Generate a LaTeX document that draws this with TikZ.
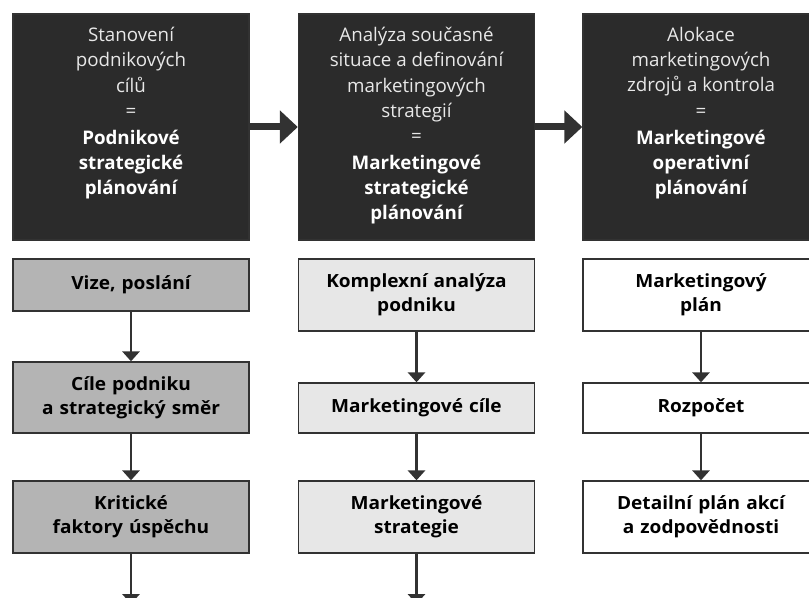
\documentclass[tikz,border=0pt]{standalone}
\usepackage{fontspec}
\setmainfont{Open Sans}
\newfontfamily\boxfont[FakeStretch=1.05]{Open Sans}
\usetikzlibrary{arrows.meta}

\definecolor{darkfill}{RGB}{43,43,43}
\definecolor{midfill}{RGB}{180,180,180}
\definecolor{lightfill}{RGB}{231,231,231}
\definecolor{edgegray}{RGB}{50,50,50}
\definecolor{toptext}{RGB}{232,232,232}

% text of the dark boxes, hung from the top
\newcommand{\toplines}[1]{\parbox[c][6.78cm][t]{6.9cm}{\centering\vspace*{0.4cm}#1}}

\begin{document}
\begin{tikzpicture}[x=0.03cm,y=-0.03cm,
		topbox/.style={draw=edgegray,line width=1.2pt,fill=darkfill,text=toptext,inner sep=0pt,
			minimum width=7.08cm,minimum height=6.78cm,font=\fontsize{16pt}{21.5pt}\selectfont},
		lowbox/.style={draw=edgegray,line width=1.2pt,minimum width=7.08cm,text width=6.8cm,
			align=center,inner sep=0pt,font=\boxfont\bfseries\fontsize{15.5pt}{20.5pt}\selectfont},
		flow/.style={draw=edgegray,line width=2pt,-{Triangle[length=0.3cm,width=0.52cm]}},
		bigflow/.style={draw=edgegray,line width=0.21cm,-{Triangle[length=0.54cm,width=0.97cm]}}]
		\useasboundingbox (0,0) rectangle (809,598);
		\clip (0,0) rectangle (809,598);

		% the three phases
		\node[topbox](plan1) at (131,127) {\toplines{Stanovení\\podnikových\\cílů\\=\\[1.5pt]
			\textcolor{white}{\bfseries Podnikové\\strategické\\plánování}}};
		\node[topbox](plan2) at (416.5,127) {\toplines{Analýza současné\\situace a definování\\marketingových\\strategií\\=\\[1.5pt]
			\textcolor{white}{\bfseries Marketingové\\strategické\\plánování}}};
		\node[topbox](plan3) at (701,127) {\toplines{Alokace\\marketingových\\zdrojů a kontrola\\=\\[1.5pt]
			\textcolor{white}{\bfseries Marketingové\\operativní\\plánování}}};

		\draw[bigflow] (plan1) -- (plan2);
		\draw[bigflow] (plan2) -- (plan3);

		% first column
		\node[lowbox,fill=midfill,minimum height=1.56cm](vize) at (131,285) {Vize, poslání};
		\node[lowbox,fill=midfill,minimum height=2.13cm](cile) at (131,397.5) {Cíle podniku\\a strategický směr};
		\node[lowbox,fill=midfill,minimum height=2.16cm](faktory) at (131,517) {Kritické\\faktory úspěchu};
		\coordinate (konec1) at (131,604);

		% second column
		\node[lowbox,fill=lightfill,minimum height=2.16cm](analyza) at (416.5,295) {Komplexní analýza\\podniku};
		\node[lowbox,fill=lightfill,minimum height=1.5cm](mcile) at (416.5,408) {Marketingové cíle};
		\node[lowbox,fill=lightfill,minimum height=2.16cm](mstrategie) at (416.5,517) {Marketingové\\strategie};
		\coordinate (konec2) at (416.5,604);

		% third column
		\node[lowbox,fill=white,minimum height=2.16cm](mplan) at (701,295) {Marketingový\\plán};
		\node[lowbox,fill=white,minimum height=1.5cm](rozpocet) at (701,408) {Rozpočet};
		\node[lowbox,fill=white,minimum height=2.16cm](detail) at (701,517) {Detailní plán akcí\\a zodpovědnosti};

		\draw[flow] (vize) -- (cile);
		\draw[flow] (cile) -- (faktory);
		\draw[flow] (faktory) -- (konec1);
		\draw[flow] (analyza) -- (mcile);
		\draw[flow] (mcile) -- (mstrategie);
		\draw[flow] (mstrategie) -- (konec2);
		\draw[flow] (mplan) -- (rozpocet);
		\draw[flow] (rozpocet) -- (detail);
	\end{tikzpicture}
\end{document}
